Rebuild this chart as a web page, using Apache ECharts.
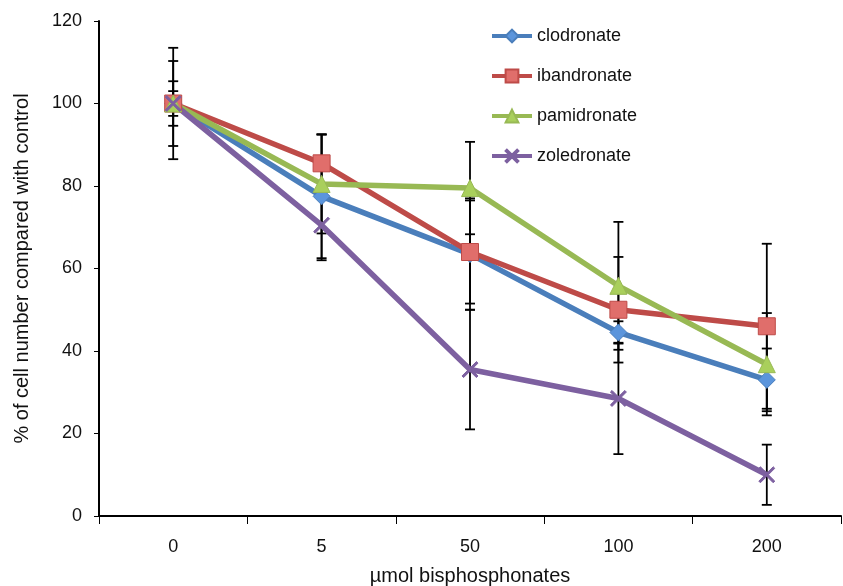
<!DOCTYPE html>
<html>
<head>
<meta charset="utf-8">
<script src="https://cdn.jsdelivr.net/npm/echarts@6/dist/echarts.min.js"></script>
<style>
  html, body { margin: 0; padding: 0; background: #fff; }
  #chart { width: 843px; height: 586px; }
</style>
</head>
<body>
<div id="chart"></div>
<script>
var categories = ['0', '5', '50', '100', '200']

var clodronate = [100, 77.5, 63.5, 44.5, 33]
var clodronateErr = [3, 15, 13.5, 2.7, 7.6]
var ibandronate = [100, 85.5, 64, 50, 46]
var ibandronateErr = [5.4, 7, 12.5, 12.8, 20]
var pamidronate = [100, 80.5, 79.5, 55.8, 36.8]
var pamidronateErr = [10.3, 12, 11.2, 15.5, 12.4]
var zoledronate = [100, 70.5, 35.5, 28.5, 10]
var zoledronateErr = [13.5, 8.5, 14.5, 13.5, 7.3]

var font = '"Liberation Sans", Arial, Helvetica, sans-serif'
var crossPath = 'path://M1,0 L5,4 L9,0 L10,1 L6,5 L10,9 L9,10 L5,6 L1,10 L0,9 L4,5 L0,1 Z'

function lineSeries (name, values, color, symbol, size, fill) {
  return {
    name: name,
    type: 'line',
    data: values,
    z: 3,
    symbol: symbol,
    symbolSize: size,
    showSymbol: true,
    lineStyle: { color: color, width: 5.5 },
    itemStyle: { color: fill, borderColor: color, borderWidth: 1 },
    emphasis: { disabled: true }
  }
}

function errorSeries (name, values, errs) {
  return {
    name: name,
    type: 'custom',
    z: 2,
    silent: true,
    data: values.map((v, i) => [i, v, errs[i]]),
    renderItem (params, api) {
      var i = api.value(0)
      var v = api.value(1)
      var e = api.value(2)
      var top = api.coord([i, v + e])
      var bot = api.coord([i, v - e])
      var w = 5
      var style = { stroke: '#000', lineWidth: 1.8 }
      return {
        type: 'group',
        children: [
          { type: 'line', shape: { x1: top[0], y1: top[1], x2: bot[0], y2: bot[1] }, style: style },
          { type: 'line', shape: { x1: top[0] - w, y1: top[1], x2: top[0] + w, y2: top[1] }, style: style },
          { type: 'line', shape: { x1: bot[0] - w, y1: bot[1], x2: bot[0] + w, y2: bot[1] }, style: style }
        ]
      }
    }
  }
}

var chart = echarts.init(document.getElementById('chart'))
chart.setOption({
  animation: false,
  textStyle: { fontFamily: font },
  grid: { left: 99, right: 2, top: 21, bottom: 70, containLabel: false, outerBoundsMode: 'none' },
  legend: {
    data: ['clodronate', 'ibandronate', 'pamidronate', 'zoledronate'],
    orient: 'vertical',
    left: 485,
    top: 22,
    itemWidth: 40,
    itemHeight: 16,
    itemGap: 22,
    lineStyle: { width: 4 },
    textStyle: { fontFamily: font, fontSize: 18, color: '#111' }
  },
  xAxis: {
    type: 'category',
    data: categories,
    boundaryGap: true,
    name: 'µmol bisphosphonates',
    nameLocation: 'middle',
    nameGap: 50,
    nameTextStyle: { fontFamily: font, fontSize: 20, color: '#111' },
    axisLine: { lineStyle: { color: '#000', width: 2 } },
    axisTick: { show: true, length: 8, lineStyle: { color: '#000' } },
    axisLabel: { margin: 22, fontSize: 18, color: '#111', fontFamily: font },
    splitLine: { show: false }
  },
  yAxis: {
    type: 'value',
    min: 0,
    max: 120,
    interval: 20,
    name: '% of cell number compared with control',
    nameLocation: 'middle',
    nameGap: 67,
    nameTextStyle: { fontFamily: font, fontSize: 20, color: '#111' },
    axisLine: { show: true, lineStyle: { color: '#000', width: 2 } },
    axisTick: { show: true, length: 5, lineStyle: { color: '#000' } },
    axisLabel: { margin: 17, fontSize: 18, color: '#111', fontFamily: font },
    splitLine: { show: false }
  },
  series: [
    errorSeries('clodronate err', clodronate, clodronateErr),
    errorSeries('ibandronate err', ibandronate, ibandronateErr),
    errorSeries('pamidronate err', pamidronate, pamidronateErr),
    errorSeries('zoledronate err', zoledronate, zoledronateErr),
    lineSeries('clodronate', clodronate, '#4a7ebb', 'diamond', 17, '#5b95dc'),
    lineSeries('ibandronate', ibandronate, '#be4b48', 'rect', 17, '#e06e6b'),
    lineSeries('pamidronate', pamidronate, '#98b954', 'triangle', 17, '#a9cf5c'),
    lineSeries('zoledronate', zoledronate, '#7d60a0', crossPath, 16, '#7d60a0')
  ]
})
</script>
</body>
</html>
